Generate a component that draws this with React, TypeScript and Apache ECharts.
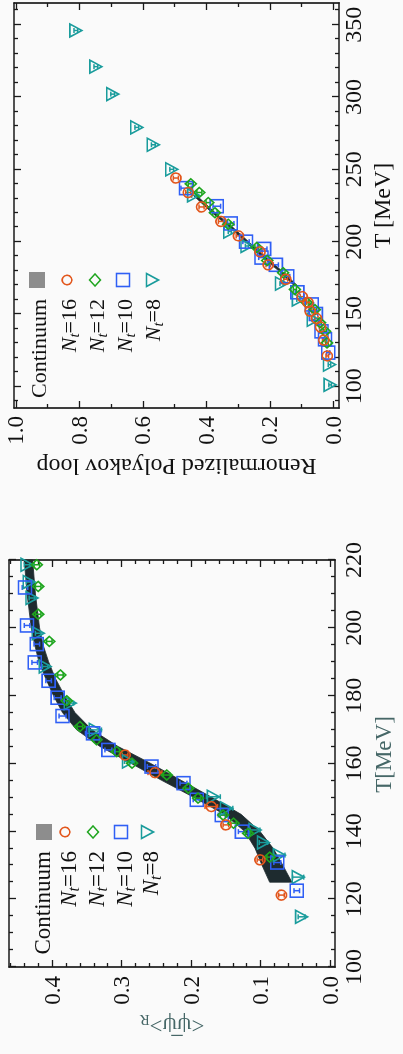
import React, { useEffect, useRef } from 'react';
import * as echarts from 'echarts';

const W = 1054;
const H = 403;
const FONT = 'Liberation Serif, serif';

// ---------- Renormalized Polyakov loop (right panel of the landscape page) ----------
const polyT16 = [244, 234, 224, 214, 204, 193, 184, 174, 162, 158, 152, 147, 141, 132, 121];
const polyP16 = [0.496, 0.457, 0.415, 0.354, 0.299, 0.231, 0.205, 0.15, 0.098, 0.08, 0.073, 0.053, 0.04, 0.03, 0.019];
const polyE16 = [0.008, 0.008, 0.008, 0.008, 0.007, 0.007, 0.007, 0.006, 0.006, 0.005, 0.005, 0.005, 0.004, 0.004, 0.004];

const polyT12 = [240, 234, 227, 220, 212, 196, 187, 178.5, 167, 158, 153, 144, 138, 130];
const polyP12 = [0.449, 0.422, 0.394, 0.373, 0.331, 0.241, 0.208, 0.158, 0.121, 0.084, 0.058, 0.042, 0.026, 0.02];
const polyE12 = [0.008, 0.008, 0.007, 0.007, 0.007, 0.006, 0.006, 0.006, 0.005, 0.005, 0.005, 0.004, 0.004, 0.004];

const polyT10 = [237, 224.5, 212.6, 200, 195, 189, 184, 176, 165, 156.6, 150, 138, 132.5, 123.3];
const polyP10 = [0.464, 0.367, 0.323, 0.275, 0.218, 0.226, 0.181, 0.145, 0.113, 0.068, 0.055, 0.037, 0.026, 0.016];
const polyE10 = [0.016, 0.012, 0.01, 0.01, 0.009, 0.009, 0.008, 0.008, 0.007, 0.006, 0.006, 0.005, 0.005, 0.005];

const polyT8 = [346, 321, 302, 279, 267, 250, 232, 207, 197, 171, 160, 146, 115, 101];
const polyP8 = [0.811, 0.748, 0.695, 0.619, 0.567, 0.509, 0.44, 0.326, 0.272, 0.163, 0.11, 0.063, 0.012, 0.01];
const polyE8 = [0.006, 0.006, 0.006, 0.006, 0.006, 0.006, 0.006, 0.005, 0.005, 0.005, 0.005, 0.004, 0.004, 0.004];

const polyBandT = [170, 180, 190, 200, 210, 220, 232];
const polyBandLo = [0.115, 0.163, 0.217, 0.267, 0.317, 0.372, 0.431];
const polyBandHi = [0.125, 0.173, 0.227, 0.277, 0.327, 0.382, 0.441];

// ---------- Chiral condensate (left panel of the landscape page) ----------
const condT16 = [162.5, 157.3, 147.3, 141.9, 131.6, 121.2];
const condV16 = [0.295, 0.252, 0.171, 0.15, 0.101, 0.07];
const condE16 = [0.004, 0.01, 0.009, 0.004, 0.004, 0.004];

const condT12 = [218.6, 212.2, 204, 196, 186.1, 178.5, 170.9, 167, 163.5, 160.1, 156.6, 152.7, 149.8, 144.8, 142.4, 139.4, 132.4];
const condV12 = [0.422, 0.42, 0.42, 0.404, 0.388, 0.379, 0.36, 0.336, 0.307, 0.285, 0.235, 0.204, 0.19, 0.154, 0.139, 0.118, 0.087];
const condE12 = [0.004, 0.004, 0.004, 0.004, 0.004, 0.004, 0.004, 0.004, 0.004, 0.004, 0.005, 0.004, 0.004, 0.004, 0.004, 0.004, 0.004];

const condT10 = [211.9, 200.7, 195.2, 189.8, 184.4, 179.4, 174, 168.9, 164, 159.1, 154.2, 149.3, 144.8, 139.9, 130.8, 122.5];
const condV10 = [0.439, 0.436, 0.422, 0.425, 0.405, 0.392, 0.385, 0.341, 0.319, 0.257, 0.211, 0.192, 0.156, 0.127, 0.076, 0.048];
const condE10 = [0.004, 0.004, 0.004, 0.004, 0.004, 0.005, 0.005, 0.011, 0.005, 0.006, 0.005, 0.005, 0.005, 0.005, 0.005, 0.004];

const condT8 = [218.6, 213.5, 208.8, 198.4, 188.6, 177.8, 169.9, 160.6, 150.2, 146.8, 140.4, 136.7, 133, 126.5, 114.8];
const condV8 = [0.436, 0.433, 0.429, 0.42, 0.41, 0.374, 0.338, 0.29, 0.168, 0.149, 0.108, 0.096, 0.073, 0.046, 0.041];
const condE8 = [0.004, 0.004, 0.004, 0.004, 0.004, 0.005, 0.009, 0.006, 0.01, 0.009, 0.007, 0.006, 0.008, 0.008, 0.005];

const condBandT = [125, 130, 135, 140, 145, 150, 155, 160, 165, 170, 175, 180, 185, 190, 195, 200, 205, 210, 215, 220];
const condBandLo = [0.055, 0.068, 0.082, 0.101, 0.128, 0.17, 0.214, 0.258, 0.305, 0.343, 0.367, 0.382, 0.395, 0.405, 0.413, 0.418, 0.421, 0.424, 0.426, 0.428];
const condBandHi = [0.087, 0.098, 0.108, 0.123, 0.152, 0.196, 0.242, 0.286, 0.331, 0.365, 0.385, 0.398, 0.409, 0.419, 0.425, 0.43, 0.433, 0.436, 0.438, 0.44];

// ---------- ticks ----------
const polyTMajor = [100, 150, 200, 250, 300, 350];
const polyTMinor = [90, 110, 120, 130, 140, 160, 170, 180, 190, 210, 220, 230, 240, 260, 270, 280, 290, 310, 320, 330, 340, 360];
const polyPMajor = [0, 0.2, 0.4, 0.6, 0.8, 1.0];
const polyPMinor = [0.1, 0.3, 0.5, 0.7, 0.9];
const condTMajor = [100, 120, 140, 160, 180, 200, 220];
const condTMinor = [105, 110, 115, 125, 130, 135, 145, 150, 155, 165, 170, 175, 185, 190, 195, 205, 210, 215];
const condVMajor = [0, 0.1, 0.2, 0.3, 0.4];
const condVMinor = [0.02, 0.04, 0.06, 0.08, 0.12, 0.14, 0.16, 0.18, 0.22, 0.24, 0.26, 0.28, 0.32, 0.34, 0.36, 0.38, 0.42, 0.44, 0.46];

const legendNames = ['Continuum', '16', '12', '10', '8'];

const C16 = '#e2561c';
const C12 = '#1ea51e';
const C10 = '#2f5ff5';
const C8 = '#1a9c9c';
const CBAND = '#1e2b2f';
const CLEGBAND = '#8d8d8d';
const CNAME2 = '#466767';
const AX = '#1a1a1a';

function axisSet(dim: 'x' | 'y', gridIndex: number, min: number, max: number, majors: number[], minors: number[], main: any) {
  const posMain = dim === 'x' ? 'bottom' : 'left';
  const posOpp = dim === 'x' ? 'top' : 'right';
  const base = { type: 'value', gridIndex, min, max, splitLine: { show: false }, silent: true };
  const tickStyle = { color: AX, width: 1.3 };
  const lineOn = { show: true, onZero: false, lineStyle: { color: AX, width: 1.7 } };
  const lineOff = { show: false, onZero: false };
  return [
    {
      ...base, position: posMain, axisLine: lineOn,
      axisTick: { show: true, inside: true, length: 7, customValues: majors, lineStyle: tickStyle },
      axisLabel: { show: true, customValues: majors, ...main.label },
      ...main.name,
    },
    { ...base, position: posMain, axisLine: lineOff, axisTick: { show: true, inside: true, length: 4, customValues: minors, lineStyle: tickStyle }, axisLabel: { show: false } },
    { ...base, position: posOpp, axisLine: lineOn, axisTick: { show: true, inside: true, length: 7, customValues: majors, lineStyle: tickStyle }, axisLabel: { show: false } },
    { ...base, position: posOpp, axisLine: lineOff, axisTick: { show: true, inside: true, length: 4, customValues: minors, lineStyle: tickStyle }, axisLabel: { show: false } },
  ];
}

function bandSeries(ts: number[], lo: number[], hi: number[], xi: number, yi: number) {
  return {
    type: 'custom', name: 'Continuum', xAxisIndex: xi, yAxisIndex: yi, z: 1, silent: true,
    data: ts.map((t, i) => [t, lo[i], hi[i]]),
    renderItem: (params: any, api: any) => {
      if (params.dataIndex !== 0) return null;
      const pts: number[][] = [];
      for (let i = 0; i < ts.length; i++) pts.push(api.coord([ts[i], lo[i]]));
      for (let i = ts.length - 1; i >= 0; i--) pts.push(api.coord([ts[i], hi[i]]));
      return { type: 'polygon', shape: { points: pts }, style: { fill: CBAND, stroke: CBAND, lineWidth: 0.8 } };
    },
  };
}

function errSeries(xs: number[], ys: number[], es: number[], color: string, xi: number, yi: number) {
  return {
    type: 'custom', xAxisIndex: xi, yAxisIndex: yi, z: 3, silent: true,
    data: xs.map((x, i) => [x, ys[i], es[i]]),
    renderItem: (params: any, api: any) => {
      const x = api.value(0), y = api.value(1), e = api.value(2);
      const a = api.coord([x, y - e]);
      const b = api.coord([x, y + e]);
      const st = { stroke: color, lineWidth: 1.5 };
      const c = 2.5;
      return {
        type: 'group', children: [
          { type: 'line', shape: { x1: a[0], y1: a[1], x2: b[0], y2: b[1] }, style: st },
          { type: 'line', shape: { x1: a[0] - c, y1: a[1], x2: a[0] + c, y2: a[1] }, style: st },
          { type: 'line', shape: { x1: b[0] - c, y1: b[1], x2: b[0] + c, y2: b[1] }, style: st },
        ],
      };
    },
  };
}

function scatter(name: string, xs: number[], ys: number[], color: string, symbol: string, size: any, xi: number, yi: number, rotate = 0) {
  return {
    type: 'scatter', name, xAxisIndex: xi, yAxisIndex: yi, z: 4, silent: true,
    symbol, symbolSize: size, symbolRotate: rotate,
    itemStyle: { color: 'transparent', borderColor: color, borderWidth: 1.6, opacity: 1 },
    data: xs.map((x, i) => [x, ys[i]]),
  };
}

function legendGraphics(cx: number, textRight: number, rows: number[], textRows: number[], fs: number) {
  const els: any[] = [];
  const sub = Math.round(fs * 0.68);
  const rich = {
    n: { fontFamily: FONT, fontSize: fs, fontStyle: 'italic', fill: '#111' },
    t: { fontFamily: FONT, fontSize: sub, fontStyle: 'italic', fill: '#111', padding: [11, 0, 0, 0] },
    r: { fontFamily: FONT, fontSize: fs, fill: '#111' },
  };
  els.push({ type: 'text', x: textRight, y: textRows[0], style: { text: legendNames[0], fontFamily: FONT, fontSize: fs, fill: '#111', align: 'right', verticalAlign: 'middle' } });
  for (let i = 1; i < 5; i++) {
    els.push({
      type: 'text', x: textRight, y: textRows[i],
      style: { text: `{n|N}{t|t}{r|=${legendNames[i]}}`, rich, fontFamily: FONT, fontSize: fs, fill: '#111', align: 'right', verticalAlign: 'middle' },
    });
  }
  els.push({ type: 'rect', shape: { x: cx - 8, y: rows[0] - 8, width: 16, height: 16 }, style: { fill: CLEGBAND } });
  els.push({ type: 'circle', shape: { cx, cy: rows[1], r: 4.8 }, style: { fill: 'none', stroke: C16, lineWidth: 1.6 } });
  els.push({ type: 'polygon', shape: { points: [[cx - 6, rows[2]], [cx, rows[2] - 5.5], [cx + 6, rows[2]], [cx, rows[2] + 5.5]] }, style: { fill: 'none', stroke: C12, lineWidth: 1.6 } });
  els.push({ type: 'rect', shape: { x: cx - 6.5, y: rows[3] - 6.5, width: 13, height: 13 }, style: { fill: 'none', stroke: C10, lineWidth: 1.6 } });
  els.push({ type: 'polygon', shape: { points: [[cx - 6.5, rows[4] - 5.5], [cx + 6.5, rows[4] - 5.5], [cx, rows[4] + 6.5]] }, style: { fill: 'none', stroke: C8, lineWidth: 1.6 } });
  return els;
}

export default function App() {
  const ref = useRef<HTMLDivElement>(null);
  useEffect(() => {
    document.body.style.margin = '0';
    document.body.style.background = '#fafafa';
    const chart = echarts.init(ref.current!, null, { renderer: 'svg', width: W, height: H });

    const tLabel = (fs: number, margin: number) => ({ fontFamily: FONT, fontSize: fs, color: '#111', margin, formatter: (v: number) => String(Math.round(v)) });
    const vLabel = (fs: number, margin: number) => ({ fontFamily: FONT, fontSize: fs, color: '#111', margin, formatter: (v: number) => v.toFixed(1) });

    const xAxes = [
      ...axisSet('x', 0, 85, 365, polyTMajor, polyTMinor, {
        label: tLabel(24, 2),
        name: { name: 'T [MeV]', nameLocation: 'middle', nameGap: 31, nameTextStyle: { fontFamily: FONT, fontSize: 24, color: '#111' } },
      }),
      ...axisSet('x', 1, 100, 220, condTMajor, condTMinor, {
        label: tLabel(24, 6),
        name: { name: 'T[MeV]', nameLocation: 'middle', nameGap: 37, nameTextStyle: { fontFamily: FONT, fontSize: 23, color: CNAME2, padding: [0, 0, 0, 18] } },
      }),
    ];
    const yAxes = [
      ...axisSet('y', 0, -0.018, 1.006, polyPMajor, polyPMinor, {
        label: vLabel(23, 8),
        name: { name: 'Renormalized Polyakov loop', nameLocation: 'middle', nameGap: 47, nameTextStyle: { fontFamily: FONT, fontSize: 24, color: '#111' } },
      }),
      ...axisSet('y', 1, -0.007, 0.462, condVMajor, condVMinor, {
        label: vLabel(23, 9),
        name: {
          name: '<ψ\u0305ψ>{s|R}', nameLocation: 'middle', nameGap: 46,
          nameTextStyle: { fontFamily: FONT, fontSize: 23, color: CNAME2, rich: { s: { fontFamily: FONT, fontSize: 15, color: CNAME2, padding: [10, 0, 0, 0] } } },
        },
      }),
    ];

    const option: any = {
      animation: false,
      backgroundColor: '#fafafa',
      grid: [
        { left: 646, top: 14, width: 405, height: 325 },
        { left: 87, top: 9, width: 407, height: 326 },
      ],
      xAxis: xAxes,
      yAxis: yAxes,
      series: [
        bandSeries(polyBandT, polyBandLo, polyBandHi, 0, 0),
        errSeries(polyT8, polyP8, polyE8, C8, 0, 0),
        scatter('N8p', polyT8, polyP8, C8, 'triangle', [13, 12], 0, 0, 180),
        errSeries(polyT10, polyP10, polyE10, C10, 0, 0),
        scatter('N10p', polyT10, polyP10, C10, 'rect', 13, 0, 0),
        errSeries(polyT12, polyP12, polyE12, C12, 0, 0),
        scatter('N12p', polyT12, polyP12, C12, 'diamond', [10, 11], 0, 0),
        errSeries(polyT16, polyP16, polyE16, C16, 0, 0),
        scatter('N16p', polyT16, polyP16, C16, 'circle', 10, 0, 0),

        bandSeries(condBandT, condBandLo, condBandHi, 4, 4),
        errSeries(condT8, condV8, condE8, C8, 4, 4),
        scatter('N8c', condT8, condV8, C8, 'triangle', [13, 12], 4, 4, 180),
        errSeries(condT10, condV10, condE10, C10, 4, 4),
        scatter('N10c', condT10, condV10, C10, 'rect', 13, 4, 4),
        errSeries(condT12, condV12, condE12, C12, 4, 4),
        scatter('N12c', condT12, condV12, C12, 'diamond', [10, 11], 4, 4),
        errSeries(condT16, condV16, condE16, C16, 4, 4),
        scatter('N16c', condT16, condV16, C16, 'circle', 10, 4, 4),
      ],
      graphic: [
        ...legendGraphics(774, 755, [37, 67, 95, 123, 152], [38, 68, 96, 124, 152], 22),
        ...legendGraphics(222, 203, [44, 65, 93, 121, 147], [42, 68, 96, 124, 150], 23),
      ],
    };
    chart.setOption(option);
    return () => chart.dispose();
  }, []);

  return (
    <div
      ref={ref}
      style={{
        position: 'fixed', left: 0, top: 0, width: W, height: H,
        transformOrigin: '0 0', transform: `translate(0px, ${W}px) rotate(-90deg)`,
        background: '#fafafa',
      }}
    />
  );
}
